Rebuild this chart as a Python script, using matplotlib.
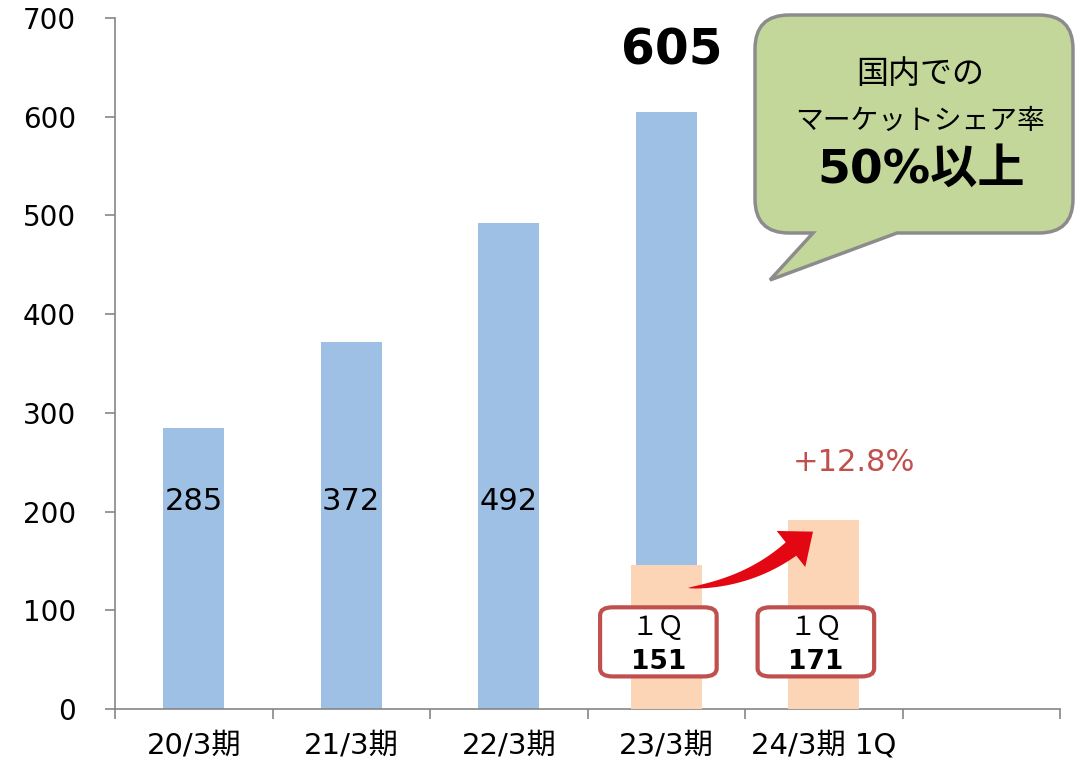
import matplotlib.pyplot as plt
import matplotlib.ticker as mticker
import numpy as np
from matplotlib.patches import FancyBboxPatch, PathPatch, Polygon
from matplotlib.path import Path

plt.rcParams.update(
    {
        "font.family": ["DejaVu Sans", "Noto Sans CJK JP"],
        "axes.spines.top": False,
        "axes.spines.right": False,
    }
)

W, H = 1076, 765

# ── данные ───────────────────────────────────────────────────────────────────
categories = ["20/3期", "21/3期", "22/3期", "23/3期", "24/3期 1Q", ""]
annual = [285, 372, 492, 605]          # годовые значения (синие столбцы)
q1_idx = [3, 4]                        # где стоят столбцы 1Q
q1_values = [151, 171]                 # 1Q (оранжевые столбцы)
growth_label = "+12.8%"

BLUE = "#9DC0E4"
PEACH = "#FBD5B5"
RED_EDGE = "#C0504D"
AXIS_GRAY = "#868686"


def fp(px, py):
    """пиксели картинки -> доли фигуры"""
    return px / W, 1 - py / H


fig = plt.figure(figsize=(W / 100, H / 100), dpi=100)
ax = fig.add_axes([115 / W, 1 - 709 / H, (1060 - 115) / W, (709 - 18) / H])

x = range(len(annual))
ax.bar(x, annual, width=0.385, color=BLUE, zorder=2)
ax.set_xlim(-0.5, len(categories) - 0.5)
ax.set_ylim(0, 700)
ax.yaxis.set_major_locator(mticker.MultipleLocator(100))

# метки категорий — по центру, тики — на границах
ax.set_xticks([i - 0.5 for i in range(len(categories) + 1)])
ax.set_xticklabels([])
ax.set_xticks(range(len(categories)), minor=True)
ax.set_xticklabels(categories, minor=True, fontsize=21)
ax.tick_params(axis="x", which="minor", length=0, pad=16)
ax.tick_params(axis="x", which="major", length=7, width=1.2, color=AXIS_GRAY)
ax.tick_params(axis="y", length=7, width=1.2, color=AXIS_GRAY, labelsize=20, pad=21)
for side in ("left", "bottom"):
    ax.spines[side].set_color(AXIS_GRAY)
    ax.spines[side].set_linewidth(1.2)

# подписи значений
for i, v in enumerate(annual[:-1]):
    ax.text(i, 210, str(v), ha="center", va="center", fontsize=22)
ax.annotate(
    str(annual[-1]),
    (len(annual) - 1, annual[-1]),
    xytext=(4, 44),
    textcoords="offset points",
    ha="center",
    va="center",
    fontsize=35,
    fontweight="bold",
)

# ── 1Q: отдельная (скрытая) шкала ────────────────────────────────────────────
ax2 = ax.twinx()
ax2.set_ylim(86.1, 397.2)
ax2.axis("off")
ax2.bar(q1_idx, q1_values, width=0.45, color=PEACH, zorder=2)

for i, v in zip(q1_idx, q1_values):
    box = FancyBboxPatch(
        (i - 0.42, 33),
        0.74,
        70,
        boxstyle="round,pad=0,rounding_size=0.08",
        mutation_aspect=100,
        facecolor="white",
        edgecolor=RED_EDGE,
        linewidth=3,
        transform=ax.transData,
        zorder=5,
    )
    ax2.add_patch(box)
    ax2.text(i - 0.05, 83, "１Ｑ", ha="center", va="center", fontsize=19,
             family=["Noto Sans CJK JP"], transform=ax.transData, zorder=6)
    ax2.text(i - 0.05, 48, str(v), ha="center", va="center", fontsize=19,
             fontweight="bold", transform=ax.transData, zorder=6)

ax2.text(4.19, 250, growth_label, ha="center", va="center", fontsize=22,
         color=RED_EDGE, transform=ax.transData)

# красная стрелка: сужающийся хвост по кривой Безье + треугольная голова
S, C, E = np.array([688, 588]), np.array([748, 583]), np.array([791, 549])
t = np.linspace(0, 1, 40)[:, None]
curve = (1 - t) ** 2 * S + 2 * (1 - t) * t * C + t**2 * E
tang = 2 * (1 - t) * (C - S) + 2 * t * (E - C)
tang = tang / np.linalg.norm(tang, axis=1, keepdims=True)
norm = np.column_stack([-tang[:, 1], tang[:, 0]])
half = 8.5 * t**0.7
upper = curve - norm * half
lower = curve + norm * half
te, ne = tang[-1], norm[-1]
head = [E - ne * 23, E + te * 28, E + ne * 23]
outline = np.vstack([upper, head, lower[::-1]])
fig.add_artist(
    Polygon([fp(*p) for p in outline], closed=True, facecolor="#E30613",
            edgecolor="none", transform=fig.transFigure, zorder=7)
)

# ── выноска ──────────────────────────────────────────────────────────────────
x0, x1, y0, y1, r = 755, 1073, 15, 233, 34
pts = [
    (x0 + r, y0), (x1 - r, y0), (x1, y0), (x1, y0 + r),
    (x1, y1 - r), (x1, y1), (x1 - r, y1),
    (897, y1), (770, 280), (813, y1),
    (x0 + r, y1), (x0, y1), (x0, y1 - r),
    (x0, y0 + r), (x0, y0), (x0 + r, y0),
]
codes = [
    Path.MOVETO, Path.LINETO, Path.CURVE3, Path.CURVE3,
    Path.LINETO, Path.CURVE3, Path.CURVE3,
    Path.LINETO, Path.LINETO, Path.LINETO,
    Path.LINETO, Path.CURVE3, Path.CURVE3,
    Path.LINETO, Path.CURVE3, Path.CURVE3,
]
callout = PathPatch(
    Path([fp(*p) for p in pts], codes),
    facecolor="#C4D79B",
    edgecolor="#8C8C8C",
    linewidth=2.5,
    transform=fig.transFigure,
    zorder=3,
)
fig.add_artist(callout)
fig.text(*fp(920, 74), "国内での", ha="center", va="center", fontsize=23, zorder=4)
fig.text(*fp(920, 121), "マーケットシェア率", ha="center", va="center", fontsize=20,
         family=["Noto Sans CJK JP"], zorder=4)
fig.text(*fp(921, 170), "50%以上", ha="center", va="center", fontsize=34,
         fontweight="bold", zorder=4)

fig.savefig("out.png", dpi=100)
